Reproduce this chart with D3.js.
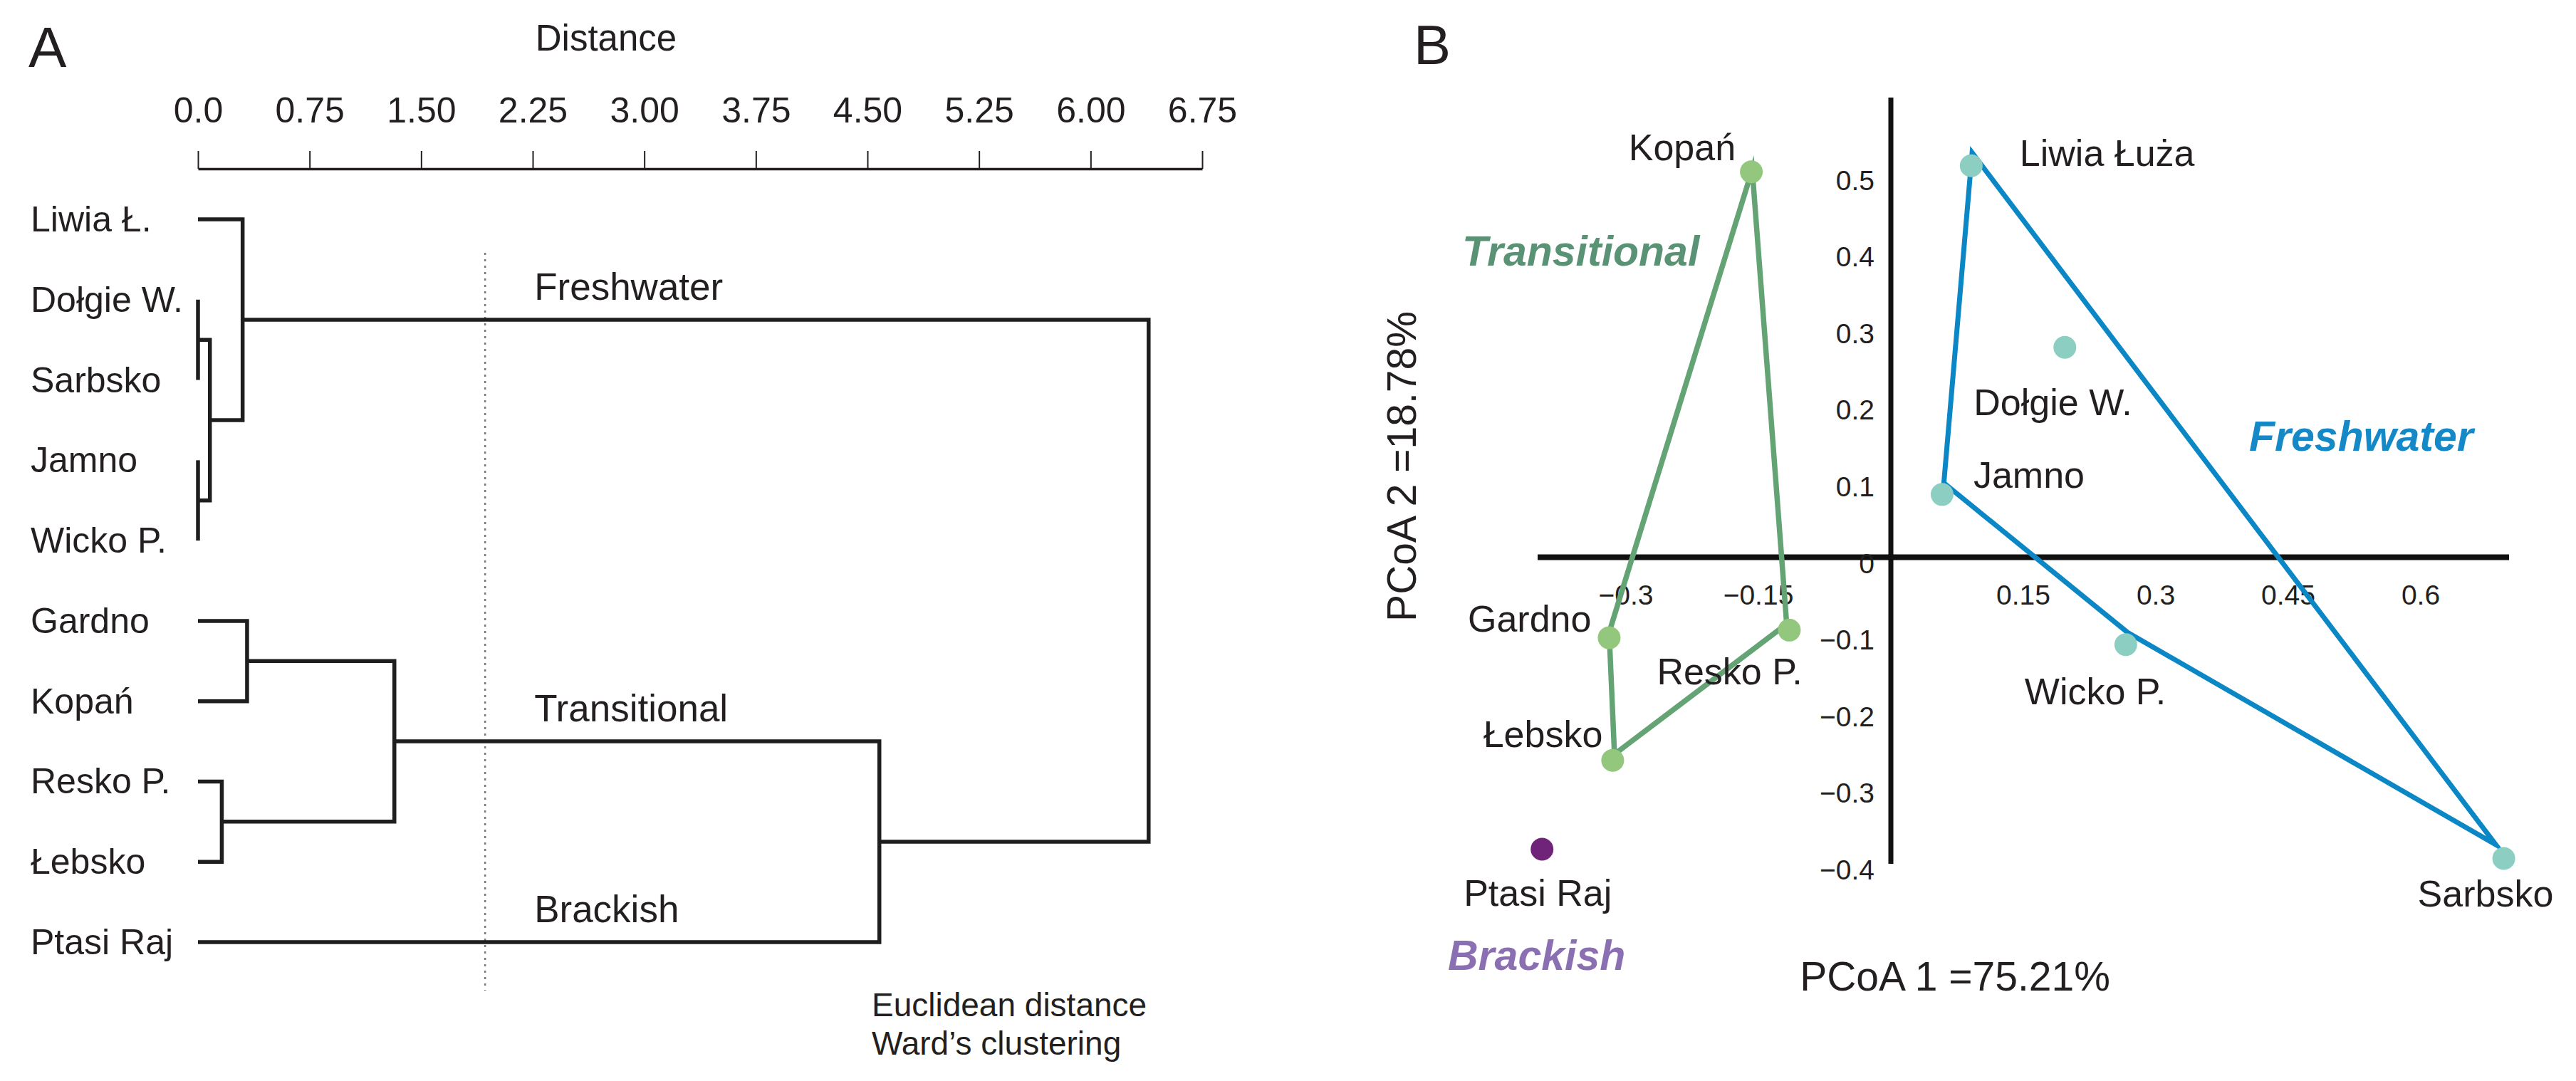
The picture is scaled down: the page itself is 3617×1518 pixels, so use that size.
<!DOCTYPE html>
<html>
<head>
<meta charset="utf-8">
<script src="https://cdn.jsdelivr.net/npm/d3@7"></script>
<style>
  body { margin: 0; background: #fff; }
  text { font-family: "Liberation Sans", Arial, sans-serif; fill: #231f20; }
</style>
</head>
<body>
<script>
// ---- panel A : dendrogram ----
const sites = ["Liwia Ł.", "Dołgie W.", "Sarbsko", "Jamno", "Wicko P.",
               "Gardno", "Kopań", "Resko P.", "Łebsko", "Ptasi Raj"]
// linkage rows (ids >= 10 are the clusters made by earlier rows)
const mergeLeft   = [1, 3, 10, 0, 5, 7, 14, 16, 13]
const mergeRight  = [2, 4, 11, 12, 6, 8, 15, 9, 17]
const mergeHeight = [0.0, 0.0, 0.08, 0.30, 0.33, 0.16, 1.32, 4.58, 6.39]
const distTicks = [0, 0.75, 1.5, 2.25, 3, 3.75, 4.5, 5.25, 6, 6.75]
const cutHeight = 1.93
const clusterNames = ["Freshwater", "Transitional", "Brackish"]
const clusterIds = [13, 16, 9]

// ---- panel B : PCoA ----
const pcoaSites = ["Kopań", "Liwia Łuża", "Dołgie W.", "Jamno", "Wicko P.",
                   "Sarbsko", "Gardno", "Resko P.", "Łebsko", "Ptasi Raj"]
const pcoa1 = [-0.158, 0.091, 0.197, 0.058, 0.266, 0.694, -0.319, -0.115, -0.315, -0.395]
const pcoa2 = [0.503, 0.511, 0.274, 0.082, -0.114, -0.393, -0.105, -0.095, -0.265, -0.381]
const pcoaGroup = ["Transitional", "Freshwater", "Freshwater", "Freshwater", "Freshwater",
                   "Freshwater", "Transitional", "Transitional", "Transitional", "Brackish"]
// hull corners as drawn in the figure
const freshHull1 = [0.092, 0.685, 0.268, 0.060]
const freshHull2 = [0.528, -0.375, -0.098, 0.097]
const transHull1 = [-0.157, -0.118, -0.313, -0.319]
const transHull2 = [0.506, -0.087, -0.257, -0.098]
const xTicksB = [-0.3, -0.15, 0.15, 0.3, 0.45, 0.6]
const yTicksB = [0.5, 0.4, 0.3, 0.2, 0.1, 0, -0.1, -0.2, -0.3, -0.4]
const xExtentB = [-0.4, 0.7]
const yExtentB = [-0.4, 0.6]

const width = 3617, height = 1518

const svg = d3.select("body").append("svg")
  .attr("width", width)
  .attr("height", height)

// ================= A =================
const xD = d3.scaleLinear().domain([0, 6.75]).range([278, 1688])
const yLeaf = d3.scalePoint().domain(sites).range([308, 1323])

const nodeY = sites.map(s => yLeaf(s))
const nodeH = sites.map(() => 0)
mergeLeft.forEach((l, i) => {
  nodeY.push((nodeY[l] + nodeY[mergeRight[i]]) / 2)
  nodeH.push(mergeHeight[i])
})

const gA = svg.append("g")

gA.append("text").text("A")
  .attr("x", 40).attr("y", 94)
  .attr("font-size", 80)

gA.append("text").text("Distance")
  .attr("x", 851).attr("y", 71)
  .attr("text-anchor", "middle")
  .attr("font-size", 51)

const axisA = gA.append("g")
  .attr("transform", "translate(0,237)")
  .call(d3.axisTop(xD)
    .tickValues(distTicks)
    .tickSize(25)
    .tickSizeOuter(0)
    .tickPadding(40)
    .tickFormat(d => d === 0 ? "0.0" : d.toFixed(2)))

axisA.attr("font-size", null).attr("font-family", null)
axisA.select(".domain").attr("stroke", "#231f20").attr("stroke-width", 3.5)
axisA.selectAll(".tick line").attr("stroke", "#231f20").attr("stroke-width", 2)
axisA.selectAll(".tick text").attr("font-size", 50).attr("fill", "#231f20")

// cut line
gA.append("line")
  .attr("x1", xD(cutHeight)).attr("x2", xD(cutHeight))
  .attr("y1", 355).attr("y2", 1391)
  .attr("stroke", "#777")
  .attr("stroke-width", 2.5)
  .attr("stroke-dasharray", "3 6")

// elbows
gA.selectAll("path.link")
  .data(mergeLeft.map((l, i) => ({ l: l, r: mergeRight[i], h: mergeHeight[i] })))
  .enter()
  .append("path")
  .attr("class", "link")
  .attr("d", d => `M${xD(nodeH[d.l])},${nodeY[d.l]}H${xD(d.h)}V${nodeY[d.r]}H${xD(nodeH[d.r])}`)
  .attr("fill", "none")
  .attr("stroke", "#1e1e1e")
  .attr("stroke-width", 5.5)
  .attr("stroke-linejoin", "miter")

gA.selectAll("text.leaf")
  .data(sites)
  .enter()
  .append("text")
  .attr("class", "leaf")
  .attr("x", 43)
  .attr("y", d => yLeaf(d) + 17)
  .attr("font-size", 50)
  .text(d => d)

gA.selectAll("text.cluster")
  .data(clusterNames)
  .enter()
  .append("text")
  .attr("class", "cluster")
  .attr("x", xD(cutHeight) + 69)
  .attr("y", (d, i) => nodeY[clusterIds[i]] - 28)
  .attr("font-size", 53)
  .text(d => d)

gA.append("text").text("Euclidean distance")
  .attr("x", 1224).attr("y", 1427).attr("font-size", 46)
gA.append("text").text("Ward’s clustering")
  .attr("x", 1224).attr("y", 1481).attr("font-size", 46)

// ================= B =================
const xP = d3.scaleLinear().domain(xExtentB).range([2159, 3523])
const yP = d3.scaleLinear().domain(yExtentB).range([1213, 137])

const groupColor = { Freshwater: "#0b87c6", Transitional: "#63a374", Brackish: "#6f2479" }
const pointColor = { Freshwater: "#8ccfc2", Transitional: "#93c77e", Brackish: "#6f2479" }
const titleColor = { Freshwater: "#1589c8", Transitional: "#5a9275", Brackish: "#8a6fb2" }

const gB = svg.append("g")

gB.append("text").text("B")
  .attr("x", 1985).attr("y", 90)
  .attr("font-size", 78)

// axes
gB.append("line")
  .attr("x1", xP(xExtentB[0])).attr("x2", xP(xExtentB[1]))
  .attr("y1", yP(0)).attr("y2", yP(0))
  .attr("stroke", "#111").attr("stroke-width", 8)
gB.append("line")
  .attr("x1", xP(0)).attr("x2", xP(0))
  .attr("y1", yP(yExtentB[1])).attr("y2", yP(yExtentB[0]))
  .attr("stroke", "#111").attr("stroke-width", 7)

const fmt = v => (v < 0 ? "\u2212" : "") + String(Math.abs(v))

gB.selectAll("text.ytick")
  .data(yTicksB)
  .enter()
  .append("text")
  .attr("class", "ytick")
  .attr("x", xP(0) - 23)
  .attr("y", d => yP(d) + 22)
  .attr("text-anchor", "end")
  .attr("font-size", 39)
  .text(fmt)

gB.selectAll("text.xtick")
  .data(xTicksB)
  .enter()
  .append("text")
  .attr("class", "xtick")
  .attr("x", d => xP(d))
  .attr("y", yP(0) + 66)
  .attr("text-anchor", "middle")
  .attr("font-size", 39)
  .text(fmt)

// hulls
const hullLine = d3.line().x(d => xP(d[0])).y(d => yP(d[1])).curve(d3.curveLinearClosed)

gB.append("path")
  .datum(transHull1.map((v, i) => [v, transHull2[i]]))
  .attr("d", hullLine)
  .attr("fill", "none")
  .attr("stroke", groupColor.Transitional)
  .attr("stroke-width", 7.5)
  .attr("stroke-linejoin", "miter")
  .attr("stroke-miterlimit", 8)

gB.append("path")
  .datum(freshHull1.map((v, i) => [v, freshHull2[i]]))
  .attr("d", hullLine)
  .attr("fill", "none")
  .attr("stroke", groupColor.Freshwater)
  .attr("stroke-width", 7)
  .attr("stroke-linejoin", "miter")
  .attr("stroke-miterlimit", 8)

const pts = pcoaSites.map((s, i) => ({ name: s, x: pcoa1[i], y: pcoa2[i], g: pcoaGroup[i] }))

gB.selectAll("circle")
  .data(pts)
  .enter()
  .append("circle")
  .attr("cx", d => xP(d.x))
  .attr("cy", d => yP(d.y))
  .attr("r", 16)
  .attr("fill", d => pointColor[d.g])

// label placement next to each point: anchor, dx, dy
const labelPos = {
  "Kopań": ["end", -22, -16],
  "Liwia Łuża": ["start", 68, 0],
  "Dołgie W.": ["start", -128, 95],
  "Jamno": ["start", 44, -9],
  "Wicko P.": ["start", -142, 84],
  "Sarbsko": ["start", -121, 68],
  "Gardno": ["end", -25, -9],
  "Resko P.": ["start", -186, 76],
  "Łebsko": ["end", -14, -19],
  "Ptasi Raj": ["middle", -6, 79]
}

gB.selectAll("text.site")
  .data(pts)
  .enter()
  .append("text")
  .attr("class", "site")
  .attr("x", d => xP(d.x) + labelPos[d.name][1])
  .attr("y", d => yP(d.y) + labelPos[d.name][2])
  .attr("text-anchor", d => labelPos[d.name][0])
  .attr("font-size", 52)
  .text(d => d.name)

const groupTitles = [
  { g: "Transitional", x: 2053, y: 373 },
  { g: "Freshwater", x: 3158, y: 633 },
  { g: "Brackish", x: 2033, y: 1362 }
]
gB.selectAll("text.group")
  .data(groupTitles)
  .enter()
  .append("text")
  .attr("class", "group")
  .attr("x", d => d.x)
  .attr("y", d => d.y)
  .attr("font-size", 59)
  .attr("font-weight", "bold")
  .attr("font-style", "italic")
  .style("fill", d => titleColor[d.g])
  .text(d => d.g)

gB.append("text").text("PCoA 1 =75.21%")
  .attr("x", 2745).attr("y", 1391)
  .attr("text-anchor", "middle")
  .attr("font-size", 57)

gB.append("text").text("PCoA 2 =18.78%")
  .attr("transform", "translate(1988,655) rotate(-90)")
  .attr("text-anchor", "middle")
  .attr("font-size", 57)
</script>
</body>
</html>
